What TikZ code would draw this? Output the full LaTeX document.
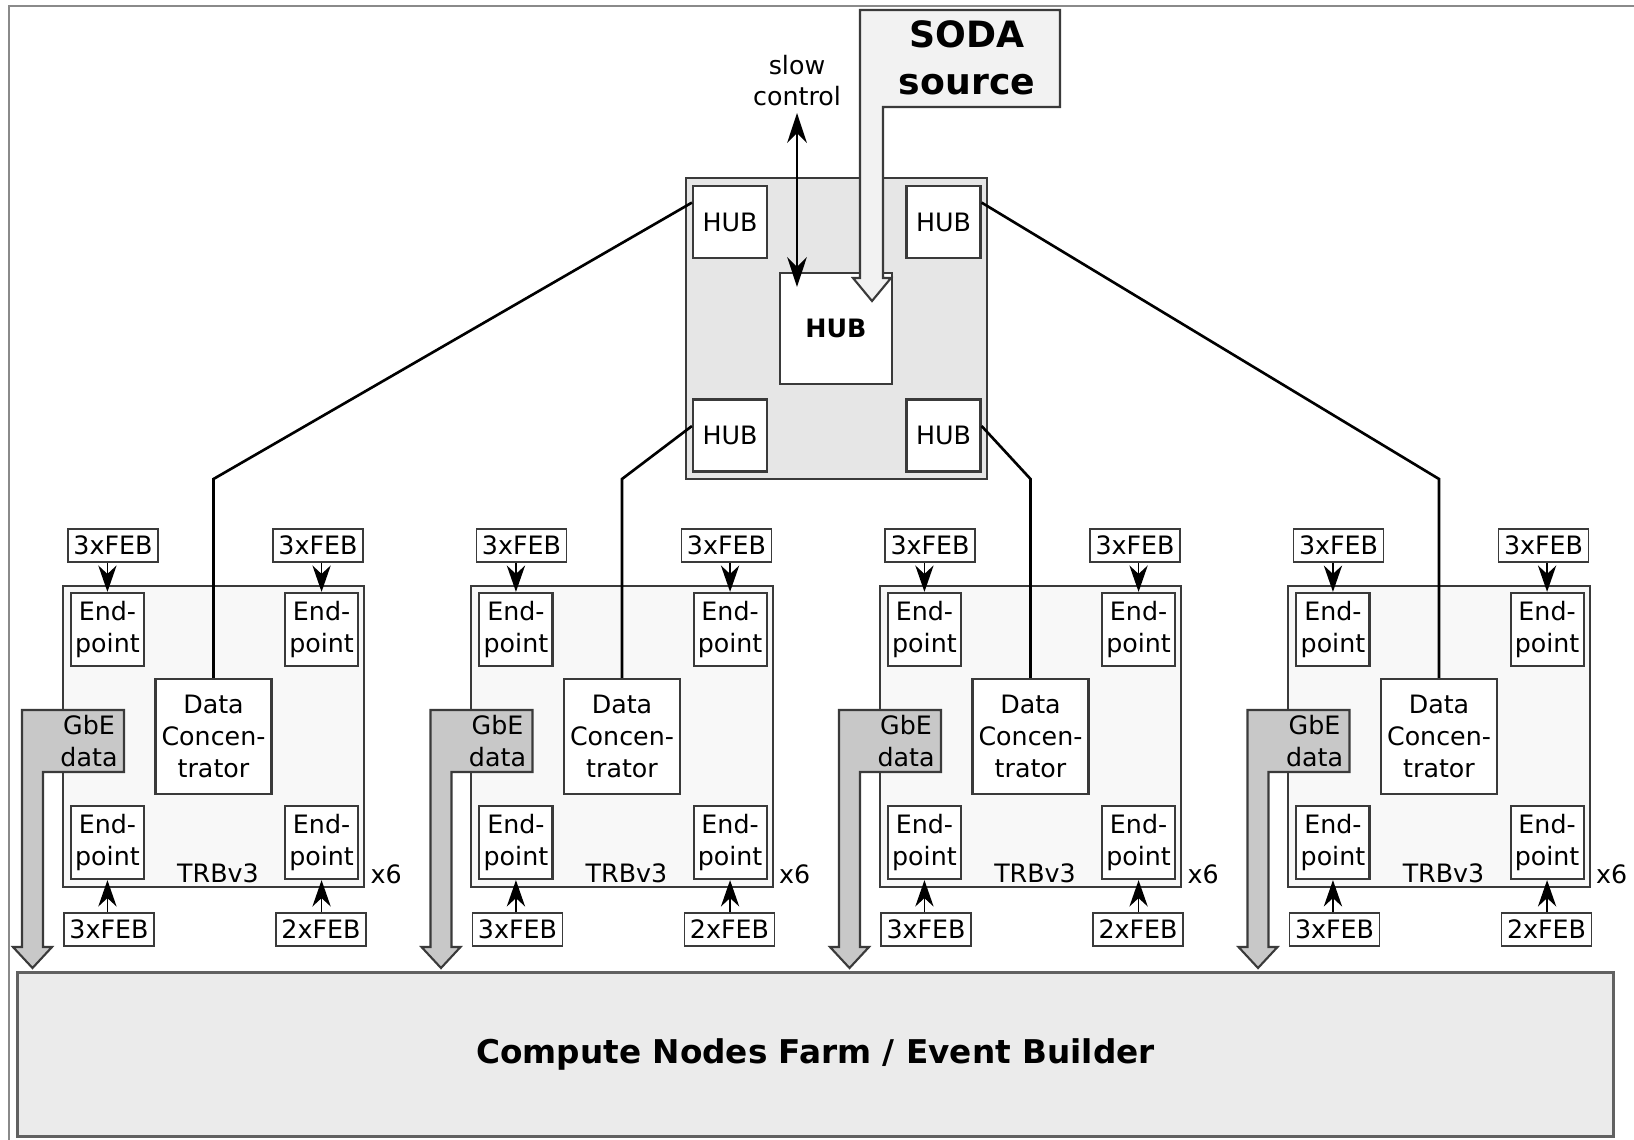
\documentclass[tikz,border=0pt]{standalone}
\usepackage{fontspec}
\setmainfont{DejaVu Sans}
\usetikzlibrary{arrows.meta}

% colours of the read-out chain
\definecolor{edgegray}{HTML}{3A3A3A}
\definecolor{framegray}{HTML}{8A8A8A}
\definecolor{hubfill}{HTML}{E6E6E6}
\definecolor{trbfill}{HTML}{F8F8F8}
\definecolor{gbefill}{HTML}{C8C8C8}
\definecolor{sodafill}{HTML}{F2F2F2}
\definecolor{farmfill}{HTML}{EBEBEB}

\newcommand{\boxfont}{\fontsize{7.2}{9}\selectfont}

\begin{document}
\begin{tikzpicture}[x=0.01cm, y=-0.01cm,
    every node/.style={font=\boxfont, inner sep=0pt, align=center},
    unit/.style={draw=edgegray, line width=0.6pt, fill=white},
    hub/.style={unit, minimum width=0.74cm, minimum height=0.72cm},
    endpt/.style={unit, minimum width=0.73cm, minimum height=0.73cm},
    conc/.style={unit, minimum width=1.16cm, minimum height=1.15cm},
    feb/.style={draw=edgegray, line width=0.45pt, fill=white, minimum width=0.9cm, minimum height=0.33cm},
    trb/.style={draw=edgegray, line width=0.6pt, fill=trbfill, minimum size=3.01cm},
    link/.style={line width=0.75pt},
    feed/.style={line width=0.45pt, -{Stealth[length=7.5pt, width=5.2pt, inset=2.4pt]}},
    ctrl/.style={line width=0.5pt, {Stealth[length=8.5pt, width=5.6pt, inset=2.8pt]}-{Stealth[length=8.5pt, width=5.6pt, inset=2.8pt]}},
    bigarrow/.style={draw=edgegray, line width=0.6pt, line join=miter},
]
    \useasboundingbox (0,0) rectangle (1634,1140);

    % page frame
    \draw[framegray, line width=0.5pt] (9,1140) -- (9,6) -- (1634,6);

    % event builder farm
    \node[draw=edgegray!80, fill=farmfill, line width=0.85pt, minimum width=15.95cm, minimum height=1.63cm,
          font=\fontsize{9.3}{11}\selectfont\bfseries] (farm) at (815.5,1054.5) {Compute Nodes Farm / Event Builder};

    % central hub board
    \node[draw=edgegray, fill=hubfill, line width=0.6pt, minimum size=3.01cm] (hubs) at (836.5,328.5) {};
    \node[hub] (hubA) at (730,222)   {HUB};
    \node[hub] (hubB) at (943.5,222) {HUB};
    \node[hub] (hubC) at (730,435.5) {HUB};
    \node[hub] (hubD) at (943.5,435.5) {HUB};
    \node[unit, minimum width=1.12cm, minimum height=1.11cm, font=\boxfont\bfseries] (hubM) at (836,328.5) {HUB};

    % TRBv3 boards
    \foreach \i in {1,...,4}{
        \pgfmathsetmacro{\xo}{63+(\i-1)*408.5}
        \node[trb] (trb\i) at (\xo+150.5,736.5) {};
        \node[endpt, anchor=north west] (epA\i) at ([shift={(8,7)}]trb\i.north west) {End-\\point};
        \node[endpt, anchor=north east] (epB\i) at ([shift={(-6,7)}]trb\i.north east) {End-\\point};
        \node[endpt, anchor=south west] (epC\i) at ([shift={(8,-8)}]trb\i.south west) {End-\\point};
        \node[endpt, anchor=south east] (epD\i) at ([shift={(-6,-8)}]trb\i.south east) {End-\\point};
        \node[conc] (dc\i) at (trb\i.center) {Data\\Concen-\\trator};
        \node[anchor=base] (name\i) at (\xo+155,882) {TRBv3};
        \node[anchor=base west] (mult\i) at (\xo+307,883) {x6};
        % front-end boards
        \node[feb] (febA\i) at (\xo+50,545.5)  {3xFEB};
        \node[feb] (febB\i) at (\xo+255,545.5) {3xFEB};
        \node[feb] (febC\i) at (\xo+46,929.5)  {3xFEB};
        \node[feb] (febD\i) at (\xo+258,929.5) {2xFEB};
        \draw[feed] (febA\i.south -| epA\i.north) -- (epA\i.north);
        \draw[feed] (febB\i.south -| epB\i.north) -- (epB\i.north);
        \draw[feed] (febC\i.north -| epC\i.south) -- (epC\i.south);
        \draw[feed] (febD\i.north -| epD\i.south) -- (epD\i.south);
        % GbE output
        \draw[bigarrow, fill=gbefill] (\xo-41,710) -- (\xo+61,710) -- (\xo+61,772) -- (\xo-20,772) -- (\xo-20,947)
            -- (\xo-11,947) -- (\xo-30.5,968) -- (\xo-50,947) -- (\xo-41,947) -- cycle;
        \node (gbe\i) at (\xo+26,741) {GbE\\data};
    }

    % links from the hubs to the data concentrators
    \coordinate (bendrow) at (0,479);
    \foreach \i/\port in {1/hubA.153, 2/hubC.166, 3/hubD.14, 4/hubB.27}{
        \draw[link] (dc\i.north) -- (dc\i.north |- bendrow) -- (\port);
    }

    % slow control
    \node[anchor=south] (slow) at (797,107) {slow\\control};
    \draw[ctrl, shorten <=0.6mm, shorten >=-1.5mm] (slow.south) -- (slow.south |- hubM.north);

    % SODA source
    \draw[bigarrow, fill=sodafill] (860,10) -- (1060,10) -- (1060,107) -- (883,107) -- (883,278)
        -- (891,278) -- (872,301) -- (853,278) -- (860,278) -- cycle;
    \node[anchor=south, font=\fontsize{10.3}{13.4}\selectfont\bfseries] (soda) at (967,96) {SODA\\source};
\end{tikzpicture}
\end{document}
